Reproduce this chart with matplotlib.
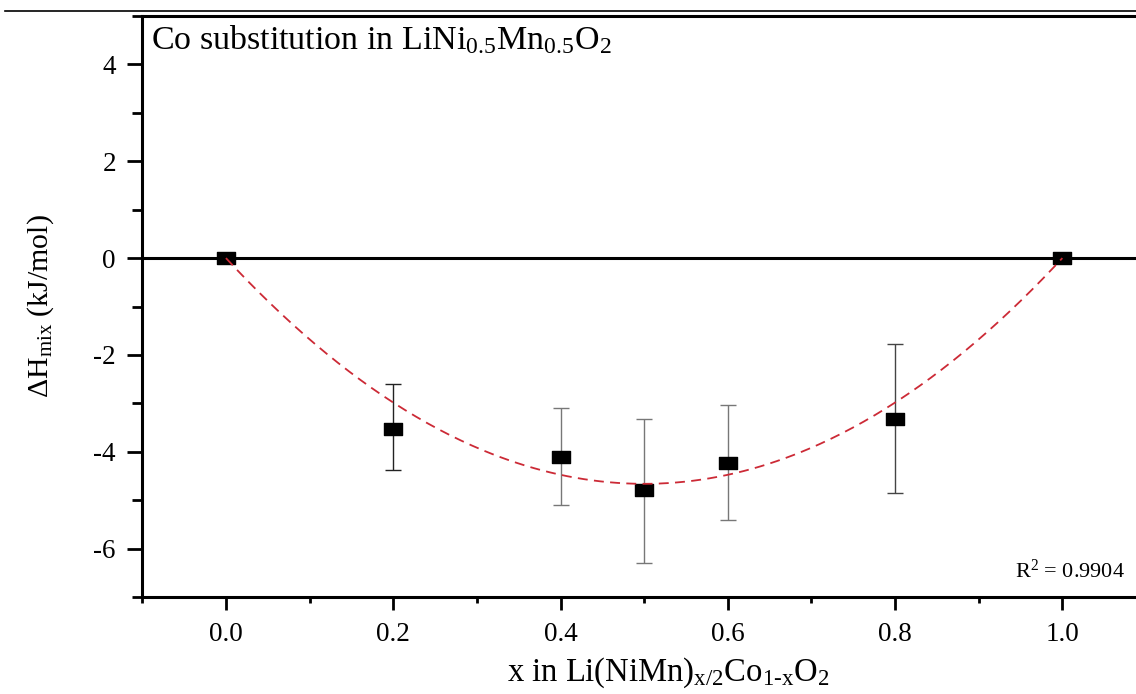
import numpy as np
import matplotlib
matplotlib.use("Agg")
import matplotlib.pyplot as plt
from matplotlib.path import Path
from matplotlib.lines import Line2D
from matplotlib.ticker import MultipleLocator

plt.rcParams['font.family'] = 'Liberation Serif'
plt.rcParams['mathtext.fontset'] = 'custom'
plt.rcParams['mathtext.rm'] = 'Liberation Serif'
plt.rcParams['mathtext.it'] = 'Liberation Serif:italic'
plt.rcParams['axes.unicode_minus'] = False

# data
x_vals = [0.0, 0.2, 0.4, 0.5, 0.6, 0.8, 1.0]
dh_mix = [0.0, -3.52, -4.10, -4.80, -4.23, -3.32, 0.0]
err_up = [0.0, 0.92, 1.01, 1.48, 1.20, 1.55, 0.0]
err_down = [0.0, 0.85, 0.99, 1.49, 1.17, 1.53, 0.0]
err_colors = ['k', '#222222', '#777777', '#777777', '#777777', '#444444', 'k']

# fit: dH = A * x * (1 - x)
fit_A = -18.65
r2_text = r'R$^{\mathrm{2}}$ = 0.9904'

fig = plt.figure(figsize=(11.36, 6.94), dpi=100)
ax = fig.add_axes([142.3/1136, 97/694, 1003.7/1136, 581/694])

# thin line across the top of the page
fig.add_artist(Line2D([5/1136, 1.0], [1 - 10.5/694, 1 - 10.5/694], color='k', lw=1.2))

ax.axhline(0, color='k', lw=2.2, zorder=2)

for xi, yi, up, dn, c in zip(x_vals, dh_mix, err_up, err_down, err_colors):
    if up > 0:
        ax.errorbar([xi], [yi], yerr=[[dn], [up]], fmt='none', ecolor=c,
                    elinewidth=1.0, capsize=6, capthick=1.0, zorder=3)

rect = Path([(-1, -0.7), (1, -0.7), (1, 0.7), (-1, 0.7), (-1, -0.7)],
            [Path.MOVETO, Path.LINETO, Path.LINETO, Path.LINETO, Path.CLOSEPOLY])
ax.plot(x_vals, dh_mix, linestyle='none', marker=rect, markersize=12.5,
        color='k', zorder=4)

x_fit = np.linspace(0, 1, 300)
ax.plot(x_fit, fit_A * x_fit * (1 - x_fit), color='#cc2a36', lw=1.3,
        dashes=(5.5, 3.5), zorder=5)

ax.set_xlim(-0.1, 1.1)
ax.set_ylim(-7, 5)
ax.xaxis.set_minor_locator(MultipleLocator(0.1))
ax.yaxis.set_minor_locator(MultipleLocator(1))
ax.set_xticks([0.0, 0.2, 0.4, 0.6, 0.8, 1.0])
ax.set_xticklabels(['0.0', '0.2', '0.4', '0.6', '0.8', '1.0'])
ax.set_yticks([-6, -4, -2, 0, 2, 4])
ax.set_yticklabels(['-6', '-4', '-2', '0', '2', '4'])

ax.tick_params(axis='both', which='major', direction='out', width=2, labelsize=19.5)
ax.tick_params(axis='y', which='major', length=11, pad=8)
ax.tick_params(axis='x', which='major', length=9, pad=9)
ax.tick_params(axis='y', which='minor', length=7, width=2, direction='out')
ax.tick_params(axis='x', which='minor', length=4, width=2, direction='out')

for s in ['left', 'bottom', 'top']:
    ax.spines[s].set_linewidth(2.2)
ax.spines['right'].set_visible(False)

ax.set_xlabel(r'x in Li(NiMn)$_{\mathrm{x/2}}$Co$_{\mathrm{1\text{-}x}}$O$_{\mathrm{2}}$', fontsize=23.5)
ax.xaxis.set_label_coords(0.524, -0.1)
ax.set_ylabel(r'$\Delta$H$_{\mathrm{mix}}$ (kJ/mol)', fontsize=21.5)
ax.yaxis.set_label_coords(-0.086, 0.5)

ax.text(0.009, 0.988, r'Co substitution in LiNi$_{\mathrm{0.5}}$Mn$_{\mathrm{0.5}}$O$_{\mathrm{2}}$',
        transform=ax.transAxes, fontsize=24.5, ha='left', va='top')
ax.text(0.979, 0.033, r2_text, transform=ax.transAxes, fontsize=16,
        ha='right', va='baseline')

fig.savefig('out.png', dpi=100)
